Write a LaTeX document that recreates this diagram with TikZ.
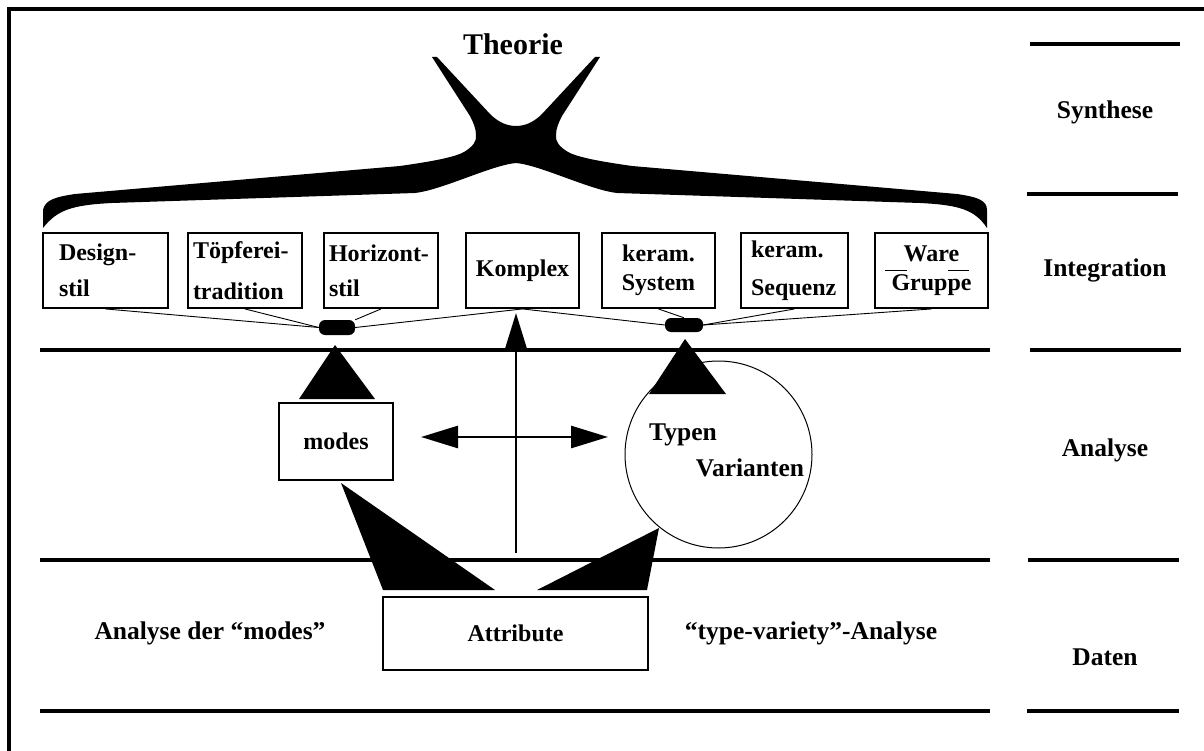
\documentclass[tikz,border=0pt]{standalone}
\usepackage{fontspec}
\setmainfont{Liberation Serif}
\usetikzlibrary{arrows.meta}
\tikzset{
  lbl/.style={font=\fontsize{25.5}{30}\selectfont\bfseries, inner sep=0pt},
  box/.style={font=\fontsize{24}{29}\selectfont\bfseries, inner sep=0pt, draw, line width=1.9pt, minimum height=75pt},
  pill/.style={fill=black, rounded corners=6pt, inner sep=0pt},
  thin/.style={line width=0.9pt},
  rule/.style={line width=3.2pt},
  arr/.style={line width=2.8pt, -{Triangle[length=37pt,width=22pt]}},
  darr/.style={line width=2.8pt, {Triangle[length=37pt,width=22pt]}-{Triangle[length=37pt,width=22pt]}}
}
\begin{document}
\begin{tikzpicture}[x=1pt,y=-1pt]
\useasboundingbox (0,0) rectangle (1204,751);
\draw [rule] (9,751) -- (9,9) -- (1204,9);
\draw [rule] (40,350) -- (990,350);
\draw [rule] (40,560) -- (990,560);
\draw [rule] (40,711) -- (990,711);
\draw [rule] (1030,44) -- (1180,44);
\draw [rule] (1027,194) -- (1178,194);
\draw [rule] (1030,350) -- (1181,350);
\draw [rule] (1028,560) -- (1179,560);
\draw [rule] (1027,711) -- (1179,711);
\node [lbl] (synthese) at (1105,112) {Synthese};
\node [lbl] (integration) at (1105,270) {Integration};
\node [lbl] (analyse) at (1105,450) {Analyse};
\node [lbl] (daten) at (1105,657) {Daten};
\node [lbl, font=\fontsize{30}{34}\selectfont\bfseries] (theorie) at (513,44) {Theorie};
\fill [black] (43,228) -- (43,210) .. controls (45,200) and (55,197) .. (75,194)
  -- (400,166) .. controls (435,161) and (455,157) .. (464,152)
  .. controls (472,147) and (477,142) .. (476,135)
  .. controls (476,128) and (473,122) .. (470,116) -- (432,57) -- (437,57)
  -- (490,114) .. controls (499,123) and (508,126) .. (516,126)
  .. controls (524,126) and (533,123) .. (542,114)
  -- (595,57) -- (600,57) -- (562,116)
  .. controls (559,122) and (556,128) .. (556,135)
  .. controls (555,142) and (560,147) .. (568,152)
  .. controls (577,157) and (597,161) .. (632,166) -- (957,194)
  .. controls (977,197) and (987,200) .. (987,210) -- (987,228)
  .. controls (975,210) and (960,205) .. (920,203) -- (617,193)
  .. controls (590,190) and (540,165) .. (516,163)
  .. controls (492,165) and (442,190) .. (415,193) -- (112,203)
  .. controls (72,205) and (57,210) .. (43,228) -- cycle;
\node [box, minimum width=125pt, inner xsep=16pt, text width=93pt, align=left] (design) at (105.5,270.5) {Design-\\[7pt]stil};
\node [box, minimum width=114pt, inner xsep=5pt, text width=104pt, align=left] (toepferei) at (245,270.5) {Töpferei-\\[12pt]tradition};
\node [box, minimum width=114pt, inner xsep=5pt, text width=104pt, align=left] (horizont) at (381,270.5) {Horizont-\\[6pt]stil};
\node [box, minimum width=113pt] (komplex) at (522.5,270.5) {Komplex};
\node [box, minimum width=113pt, align=center] (system) at (658.5,270.5) {keram.\\System};
\node [box, minimum width=107pt, inner xsep=10pt, text width=87pt, align=left] (sequenz) at (794.5,270.5) {keram.\\[9pt]Sequenz};
\node [box, minimum width=113pt, align=center] (ware) at (931.5,270.5) {Ware\\Gruppe};
\draw [thin] (885,270) -- (907,270);
\draw [thin] (948,270) -- (969,270);
\node [pill, minimum width=36pt, minimum height=15pt] (lpill) at (337,327.5) {};
\node [pill, minimum width=38pt, minimum height=14pt] (rpill) at (684,325) {};
\draw [thin] (design.south) -- (lpill.west);
\draw [thin] (toepferei.south) -- (lpill.west);
\draw [thin] (horizont.south) -- (lpill.north east);
\draw [thin] (komplex.south) -- (lpill.east);
\draw [thin] (komplex.south) -- (rpill.west);
\draw [thin] (system.south) -- (rpill.north);
\draw [thin] (sequenz.south) -- (rpill.east);
\draw [thin] (ware.south) -- (rpill.east);
\node [box, minimum width=114pt, minimum height=77pt] (modes) at (336,441.5) {modes};
\node [draw, circle, line width=1pt, minimum size=187pt] (typvar) at (718.5,454.5) {};
\node [lbl] (typen) at (683,435) {Typen};
\node [lbl] (varianten) at (750,468) {Varianten};
\node [box, minimum width=265pt, minimum height=73pt] (attribute) at (515.5,633.5) {Attribute};
\node [lbl] (lmodes) at (210,633) {Analyse der “modes”};
\node [lbl] (ltype) at (811,633) {“type-variety”-Analyse};
\fill [black] (335,345) -- (299,399) -- (375,399) -- cycle;
\fill [black] (685,339) -- (649,394) -- (726,394) -- cycle;
\fill [black] (341,483) -- (383,590) -- (495,590) -- cycle;
\fill [black] (659,528) -- (647,590) -- (537,590) -- cycle;
\coordinate (hl) at (421,437);
\coordinate (hr) at (608,437);
\coordinate (vb) at (516,553);
\coordinate (vt) at (516,313);
\draw [darr] (hl) -- (hr);
\draw [arr] (vb) -- (vt);
\end{tikzpicture}
\end{document}
